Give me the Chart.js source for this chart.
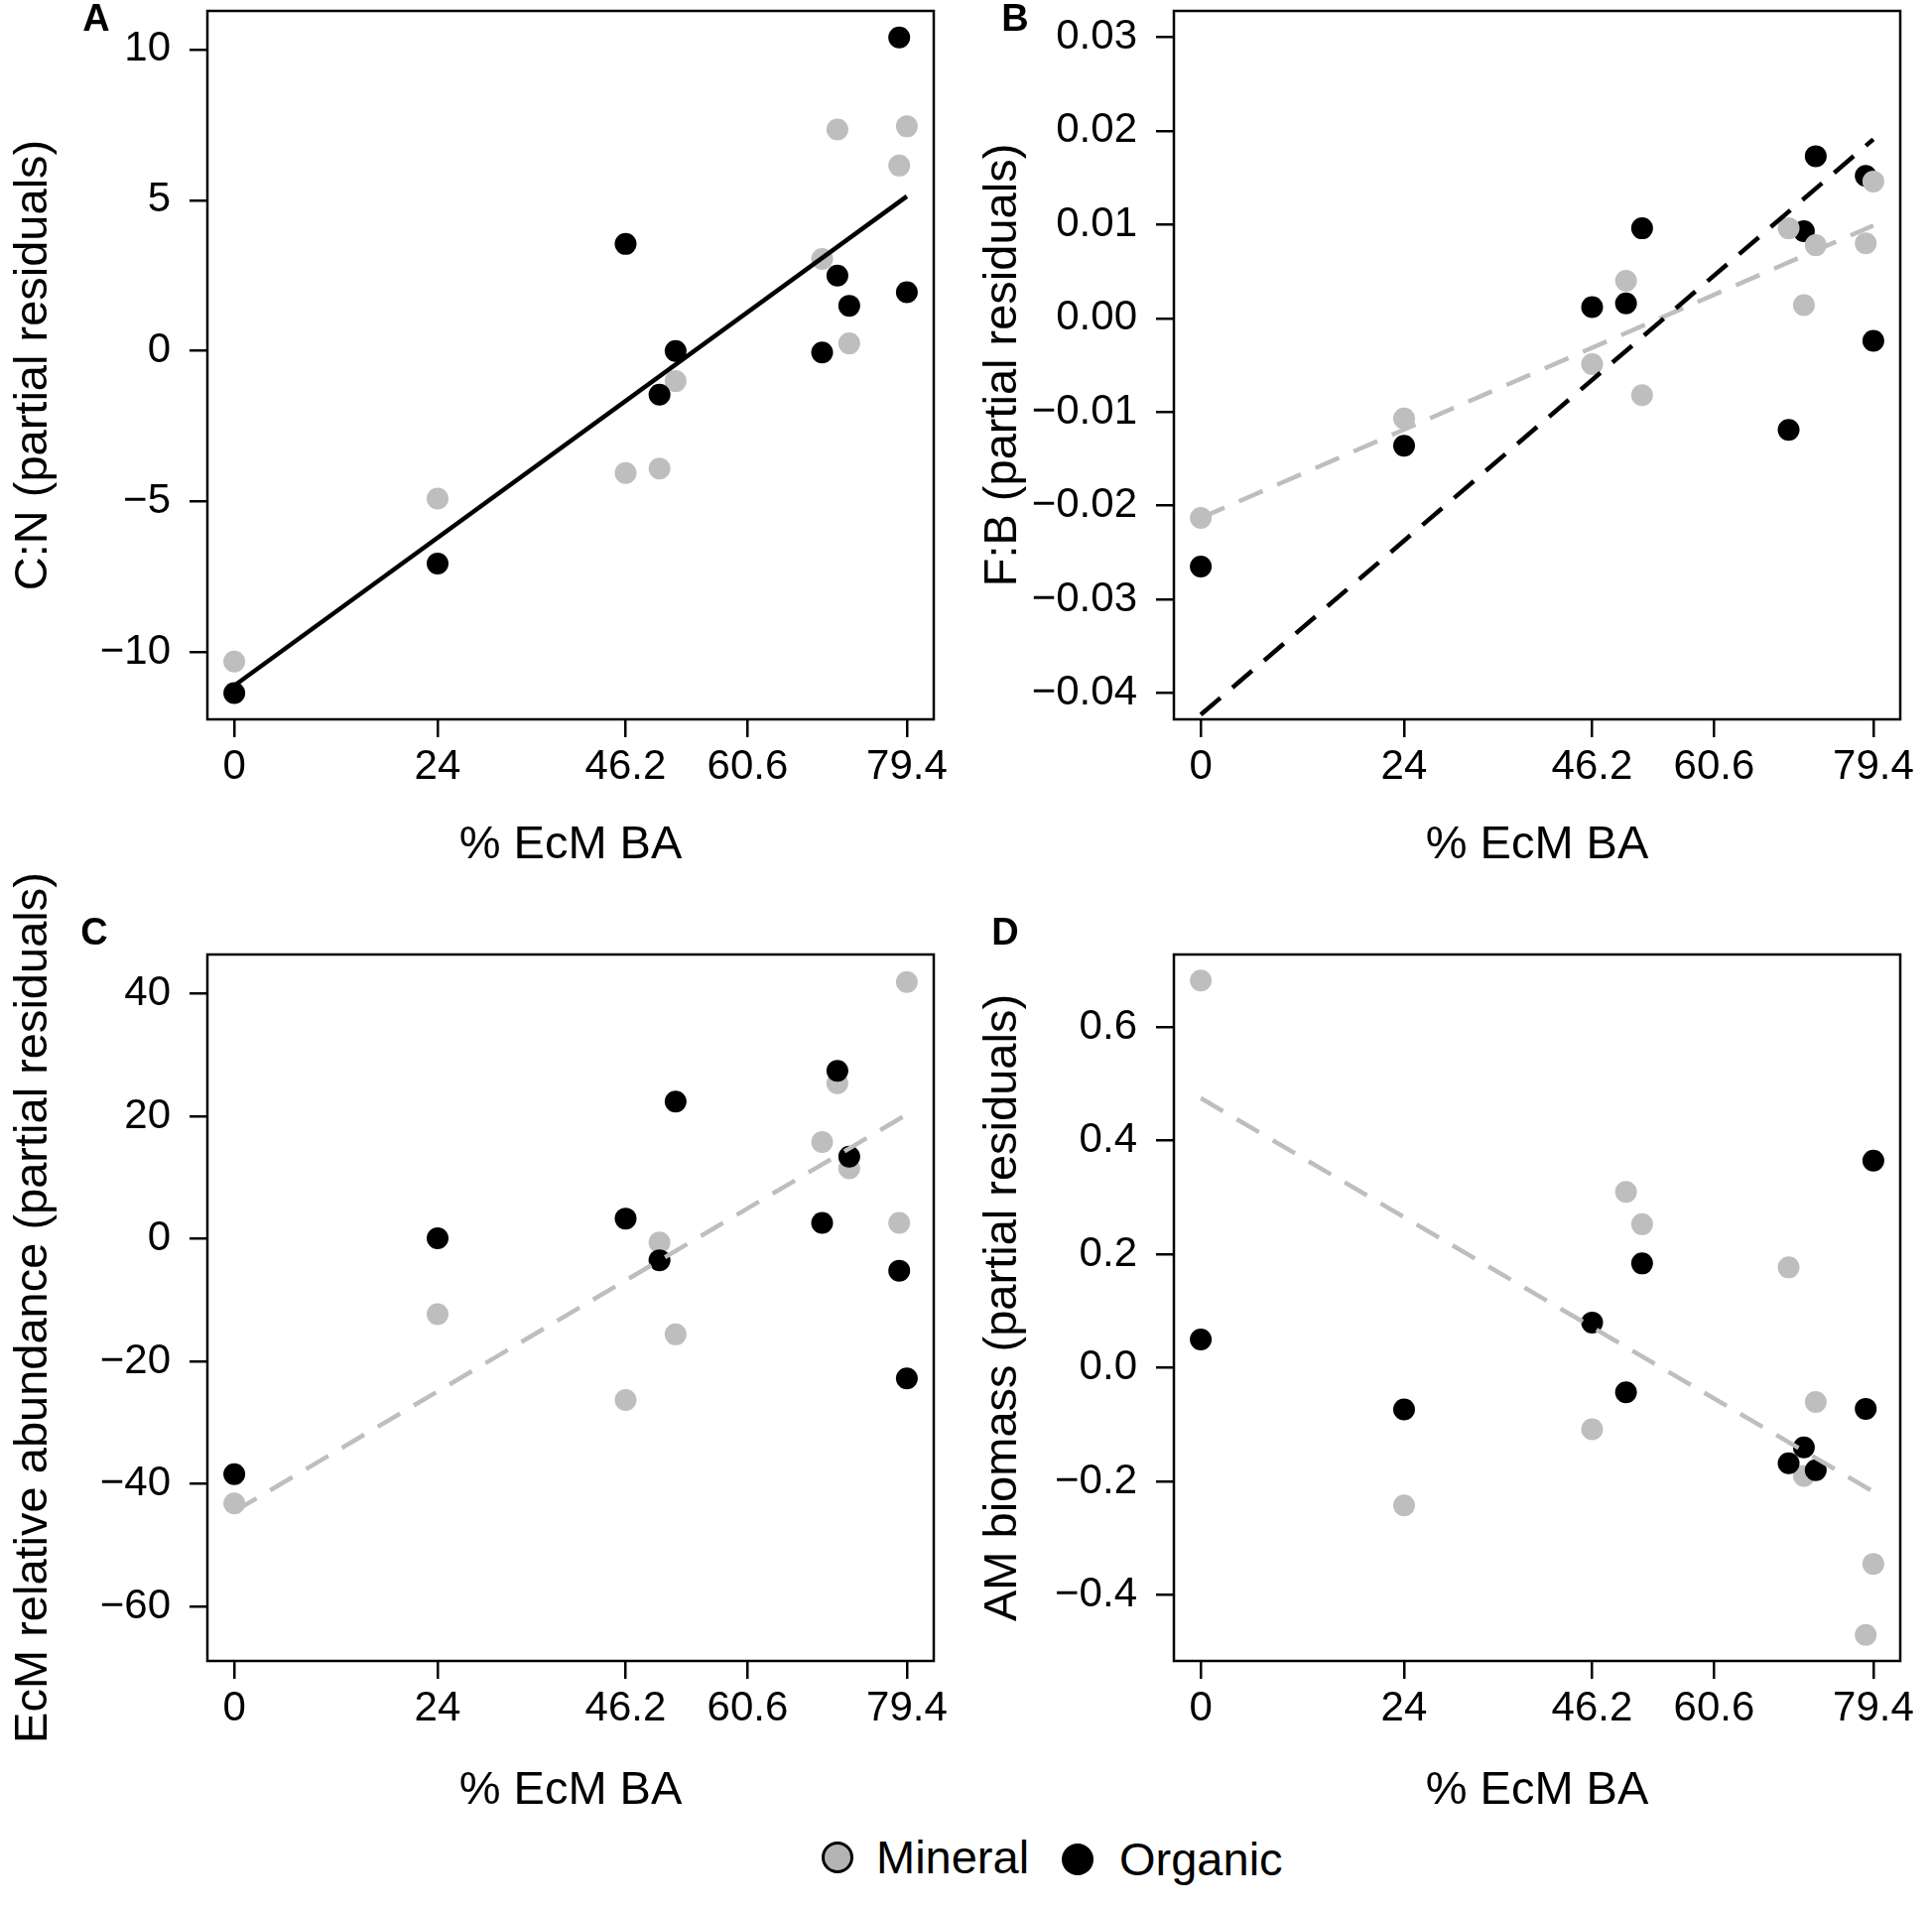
<!DOCTYPE html>
<html>
<head>
<meta charset="utf-8">
<script src="https://cdn.jsdelivr.net/npm/chart.js@4.4.1/dist/chart.umd.min.js"></script>
<style>
  html, body { margin: 0; padding: 0; background: #fff; }
  body { position: relative; width: 1947px; height: 1924px; overflow: hidden; font-family: 'Liberation Sans', Arial, sans-serif; }
  canvas { position: absolute; }
  .dot { position: absolute; width: 32px; height: 32px; border-radius: 50%; box-sizing: border-box; }
  .dot.mineral { background: #b4b4b4; border: 3px solid #000; }
  .dot.organic { background: #000; }
  .key { position: absolute; font-size: 47px; line-height: 56px; color: #000; white-space: nowrap; }
</style>
</head>
<body>
<canvas id="panelA" width="973" height="880" style="left:0;top:0"></canvas>
<canvas id="panelB" width="974" height="880" style="left:973px;top:0"></canvas>
<canvas id="panelC" width="973" height="960" style="left:0;top:880px"></canvas>
<canvas id="panelD" width="974" height="960" style="left:973px;top:880px"></canvas>

<span class="dot mineral" style="left:828px;top:1856px"></span>
<span class="key" style="left:883px;top:1844px">Mineral</span>
<span class="dot organic" style="left:1070px;top:1858px"></span>
<span class="key" style="left:1128px;top:1846px">Organic</span>

<script>
// % EcM basal area of each plot (shared by all panels)
const ecmBA = [0, 24, 46.2, 50.2, 52.1, 69.4, 71.2, 72.6, 78.5, 79.4];
const xTicks = [0, 24, 46.2, 60.6, 79.4];
const fitX = [0, 79.4];

// A: C:N partial residuals
const cnMineral = [-10.3, -4.9, -4.05, -3.9, -1.0, 3.05, 7.35, 0.25, 6.15, 7.45];
const cnOrganic = [-11.35, -7.05, 3.55, -1.45, 0.0, -0.05, 2.5, 1.5, 10.4, 1.95];
const cnFit = [-11.1, 5.13];
const cnTicks = [-10, -5, 0, 5, 10];

// B: F:B partial residuals
const fbMineral = [-0.0213, -0.0107, -0.0049, 0.0040, -0.0082, 0.0096, 0.0014, 0.0078, 0.0080, 0.0146];
const fbOrganic = [-0.0265, -0.0136, 0.0012, 0.0016, 0.0096, -0.0119, 0.0093, 0.0173, 0.0152, -0.0024];
const fbFitMineral = [-0.0213, 0.0099];
const fbFitOrganic = [-0.0423, 0.0191];
const fbTicks = [-0.04, -0.03, -0.02, -0.01, 0, 0.01, 0.02, 0.03];

// C: EcM relative abundance partial residuals
const ecmMineral = [-43.2, -12.3, -26.3, -0.6, -15.6, 15.8, 25.4, 11.5, 2.6, 41.9];
const ecmOrganic = [-38.4, 0.1, 3.3, -3.5, 22.4, 2.6, 27.4, 13.4, -5.2, -22.8];
const ecmFitMineral = [-44.5, 20.3];
const ecmTicks = [-60, -40, -20, 0, 20, 40];

// D: AM biomass partial residuals
const amMineral = [0.682, -0.242, -0.108, 0.310, 0.253, 0.177, -0.19, -0.06, -0.47, -0.345];
const amOrganic = [0.05, -0.073, 0.08, -0.043, 0.184, -0.168, -0.14, -0.18, -0.072, 0.365];
const amFitMineral = [0.475, -0.218];
const amTicks = [-0.4, -0.2, 0, 0.2, 0.4, 0.6];

const FONT = "'Liberation Sans', Arial, sans-serif";
const GRAY = '#bebebe';
const DASH = [26, 16];

function points(xs, ys) {
    return xs.map((x, i) => ({ x: x, y: ys[i] }));
}

function makePanel(id, p) {
    const canvas = document.getElementById(id);
    if (!canvas) return;

    const datasets = [];
    p.fits.forEach(function (f) {
        datasets.push({
            data: points(fitX, f.values),
            showLine: true,
            borderColor: f.color,
            borderWidth: 4.5,
            borderDash: f.dash,
            pointRadius: 0,
            order: 0
        });
    });
    datasets.push({
        label: 'Organic',
        data: points(ecmBA, p.organic),
        backgroundColor: '#000',
        borderWidth: 0,
        pointRadius: 11,
        order: p.mineralOnTop ? 2 : 1
    });
    datasets.push({
        label: 'Mineral',
        data: points(ecmBA, p.mineral),
        backgroundColor: GRAY,
        borderWidth: 0,
        pointRadius: 11,
        order: p.mineralOnTop ? 1 : 2
    });

    // frame, y title and panel letter
    const decor = {
        id: 'decor',
        afterDraw(chart) {
            const ctx = chart.ctx;
            const a = chart.chartArea;
            ctx.save();
            ctx.strokeStyle = '#000';
            ctx.lineWidth = 2.5;
            ctx.strokeRect(a.left, a.top, a.right - a.left, a.bottom - a.top);

            ctx.fillStyle = '#000';
            ctx.textAlign = 'center';
            ctx.textBaseline = 'middle';
            ctx.font = 'bold 38px ' + FONT;
            ctx.fillText(p.letter, p.letterX, p.letterY);

            ctx.translate(p.titleX, (a.top + a.bottom) / 2);
            ctx.rotate(-Math.PI / 2);
            ctx.font = '47px ' + FONT;
            ctx.fillText(p.yTitle, 0, 0);
            ctx.restore();
        }
    };

    new Chart(canvas, {
        type: 'scatter',
        data: { datasets: datasets },
        options: {
            responsive: false,
            animation: false,
            devicePixelRatio: 1,
            layout: { padding: { top: p.padTop, right: 32, left: 0, bottom: 0 } },
            plugins: {
                legend: { display: false },
                tooltip: { enabled: false }
            },
            scales: {
                x: {
                    type: 'linear',
                    min: -3.176,
                    max: 82.576,
                    afterBuildTicks: function (s) { s.ticks = xTicks.map(v => ({ value: v })); },
                    afterFit: function (s) {
                        s.height = p.xAxisHeight;
                        s.paddingLeft = 0;
                        s.paddingRight = 0;
                    },
                    ticks: {
                        callback: v => String(v),
                        font: { family: FONT, size: 42 },
                        color: '#000',
                        padding: 5,
                        maxRotation: 0,
                        autoSkip: false
                    },
                    grid: { drawOnChartArea: false, drawTicks: true, tickLength: 18, color: '#000', lineWidth: 2.5 },
                    border: { display: false },
                    title: {
                        display: true,
                        text: '% EcM BA',
                        color: '#000',
                        font: { family: FONT, size: 47 },
                        padding: { top: 0, bottom: p.xTitlePad }
                    }
                },
                y: {
                    type: 'linear',
                    min: p.yMin,
                    max: p.yMax,
                    afterBuildTicks: function (s) { s.ticks = p.yTicks.map(v => ({ value: v })); },
                    afterFit: function (s) {
                        s.width = p.yAxisWidth;
                        s.paddingTop = 0;
                        s.paddingBottom = 0;
                    },
                    ticks: {
                        callback: v => v.toFixed(p.decimals).replace('-', '\u2212'),
                        font: { family: FONT, size: 42 },
                        color: '#000',
                        padding: 19,
                        autoSkip: false
                    },
                    grid: { drawOnChartArea: false, drawTicks: true, tickLength: 18, color: '#000', lineWidth: 2.5 },
                    border: { display: false }
                }
            }
        },
        plugins: [decor]
    });
}

makePanel('panelA', {
    letter: 'A', letterX: 97, letterY: 21,
    yTitle: 'C:N (partial residuals)', titleX: 34,
    mineral: cnMineral, organic: cnOrganic,
    fits: [{ values: cnFit, color: '#000', dash: [] }],
    yMin: -12.22, yMax: 11.28, yTicks: cnTicks, decimals: 0,
    padTop: 11, yAxisWidth: 209, xAxisHeight: 155, xTitlePad: 0
});

makePanel('panelB', {
    letter: 'B', letterX: 50, letterY: 21,
    yTitle: 'F:B (partial residuals)', titleX: 38,
    mineral: fbMineral, organic: fbOrganic, mineralOnTop: true,
    fits: [
        { values: fbFitOrganic, color: '#000', dash: DASH },
        { values: fbFitMineral, color: GRAY, dash: DASH }
    ],
    yMin: -0.0428, yMax: 0.0328, yTicks: fbTicks, decimals: 2,
    padTop: 11, yAxisWidth: 210, xAxisHeight: 155, xTitlePad: 0
});

makePanel('panelC', {
    letter: 'C', letterX: 95, letterY: 62,
    yTitle: 'EcM relative abundance (partial residuals)', titleX: 34,
    mineral: ecmMineral, organic: ecmOrganic,
    fits: [{ values: ecmFitMineral, color: GRAY, dash: DASH }],
    yMin: -68.9, yMax: 46.4, yTicks: ecmTicks, decimals: 0,
    padTop: 82, yAxisWidth: 209, xAxisHeight: 166, xTitlePad: 7
});

makePanel('panelD', {
    letter: 'D', letterX: 40, letterY: 62,
    yTitle: 'AM biomass (partial residuals)', titleX: 38,
    mineral: amMineral, organic: amOrganic,
    fits: [{ values: amFitMineral, color: GRAY, dash: DASH }],
    yMin: -0.516, yMax: 0.728, yTicks: amTicks, decimals: 1,
    padTop: 82, yAxisWidth: 210, xAxisHeight: 166, xTitlePad: 7
});
</script>
</body>
</html>
